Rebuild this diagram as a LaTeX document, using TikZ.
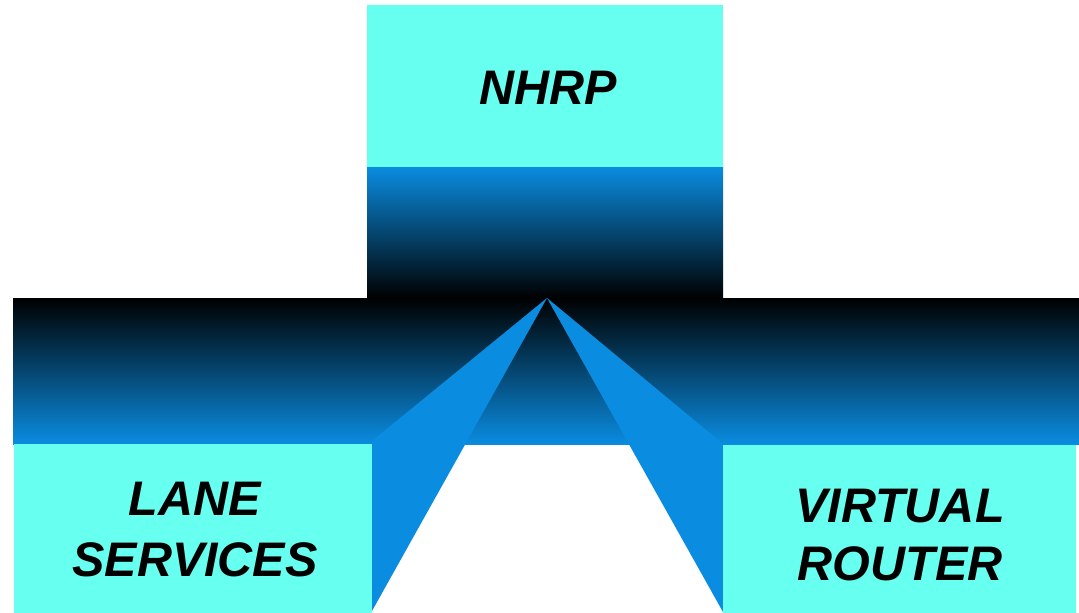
\documentclass[tikz,border=0pt]{standalone}
\usepackage{fontspec}
\setmainfont{Liberation Sans}
\definecolor{boxcyan}{RGB}{102,255,240}
\definecolor{fanblue}{RGB}{10,140,224}
\begin{document}
\begin{tikzpicture}[x=1pt,y=-1pt,
  label box/.style={fill=boxcyan, draw=none, inner sep=0pt},
  label text/.style={inner sep=0pt, align=center, text=black,
    font=\fontsize{48.5}{61}\selectfont\bfseries\itshape},
  fan/.style={fill=fanblue, draw=none}]
\useasboundingbox (0,0) rectangle (1079,613);
% gradients
\shade[top color=fanblue, bottom color=black] (367,167) rectangle (723,298);
\shade[top color=black, bottom color=fanblue] (13,298) rectangle (1079,444);
% apex and fan corners
\coordinate (apex) at (547,298);
\coordinate (lt) at (372,441);
\coordinate (lb) at (372,611);
\coordinate (rt) at (723,444);
\coordinate (rb) at (723,612);
\fill[fan] (apex) -- (lt) -- (lb) -- cycle;
\fill[fan] (apex) -- (rt) -- (rb) -- cycle;
% boxes
\node[label box, minimum width=356pt, minimum height=162pt] (nhrp) at (545,86) {};
\node[label box, minimum width=358pt, minimum height=169pt] (lane) at (193,528.5) {};
\node[label box, minimum width=353pt, minimum height=168pt] (vr) at (899.5,529) {};
% texts
\node[label text] (nhrptext) at (548,88) {NHRP};
\node[label text] (lanetext) at (195,530) {LANE\\SERVICES};
\node[label text, font=\fontsize{48.5}{58}\selectfont\bfseries\itshape] (vrtext) at (900,535) {VIRTUAL\\ROUTER};
\end{tikzpicture}
\end{document}
